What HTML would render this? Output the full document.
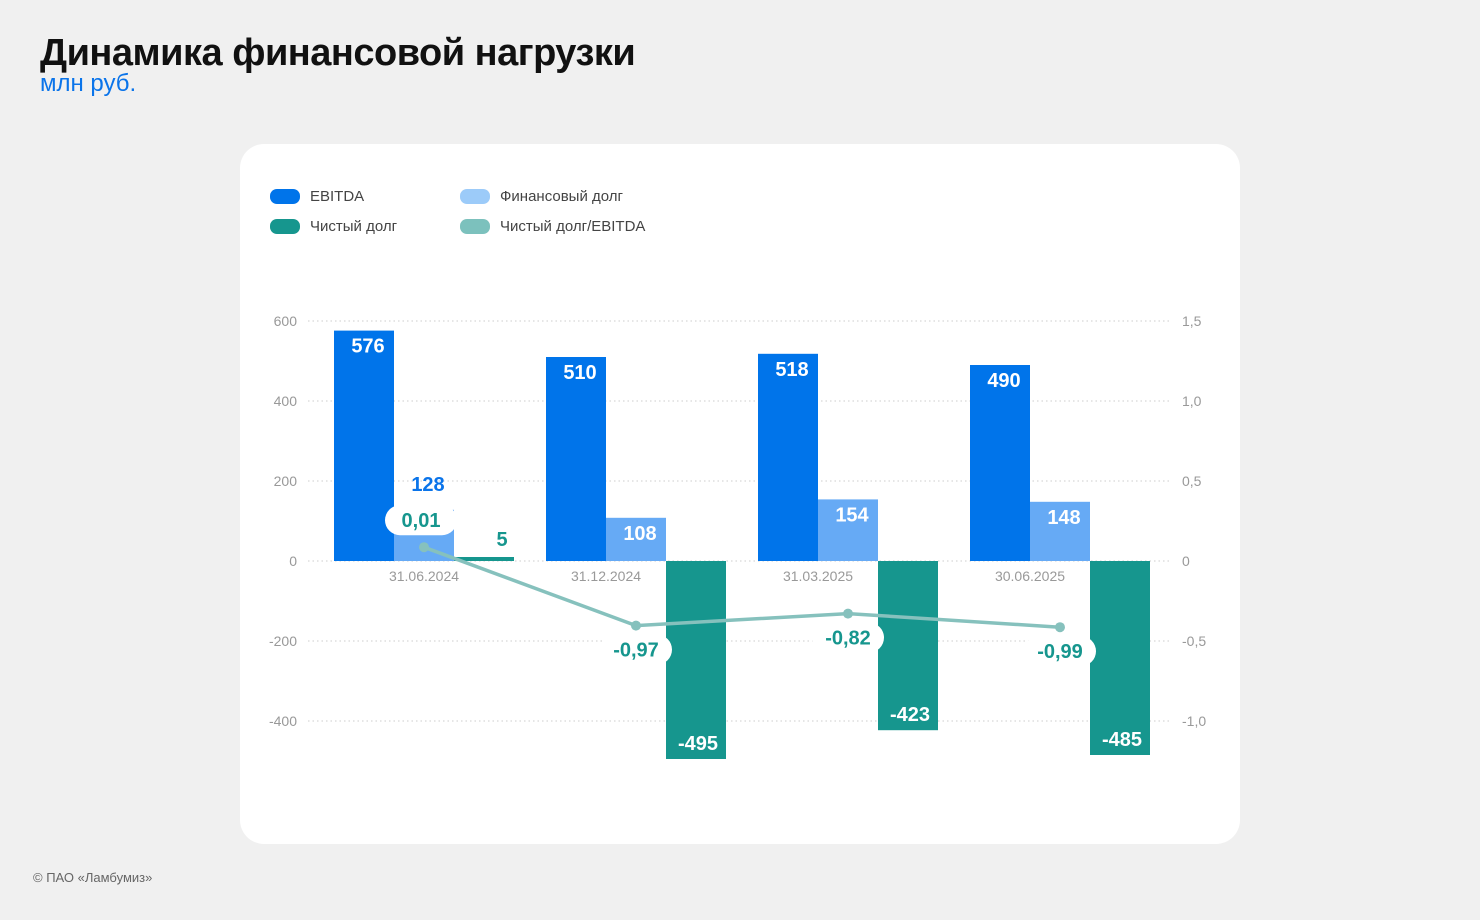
<!DOCTYPE html>
<html><head><meta charset="utf-8"><style>
body{margin:0;width:1480px;height:920px;background:#f0f0f0;font-family:"Liberation Sans",sans-serif;position:relative;overflow:hidden}
h1{position:absolute;left:40px;top:32px;margin:0;font-size:38px;font-weight:bold;color:#111;letter-spacing:-0.5px}
.sub{position:absolute;left:40px;top:70px;font-size:24px;color:#0a74ea}
.card{position:absolute;left:240px;top:144px;width:1000px;height:700px;background:#fff;border-radius:24px}
.foot{position:absolute;left:33px;top:870px;font-size:13px;color:#666}
.lg{position:absolute;font-size:15px;color:#444;display:flex;align-items:center}
.lg i{display:inline-block;width:30px;height:15px;border-radius:7px;margin-right:10px}
</style></head><body>
<h1>Динамика финансовой нагрузки</h1>
<div class="sub">млн руб.</div>
<div class="card"></div>
<div class="lg" style="left:270px;top:188px"><i style="background:#0074ea"></i>EBITDA</div>
<div class="lg" style="left:460px;top:188px"><i style="background:#9ccbf9"></i>Финансовый долг</div>
<div class="lg" style="left:270px;top:218px"><i style="background:#16968e"></i>Чистый долг</div>
<div class="lg" style="left:460px;top:218px"><i style="background:#7cc1bd"></i>Чистый долг/EBITDA</div>
<svg id="ch" width="1480" height="920" style="position:absolute;left:0;top:0"></svg>
<div class="foot">© ПАО «Ламбумиз»</div>
<script>
const categories=["31.06.2024","31.12.2024","31.03.2025","30.06.2025"];
const ebitda=[576,510,518,490];
const finDebt=[128,108,154,148];
const netDebt=[5,-495,-423,-485];
const ratio=[0.01,-0.97,-0.82,-0.99];
const ratioLabels=["0,01","-0,97","-0,82","-0,99"];
const leftTicks=[600,400,200,0,-200,-400];
const rightTicks=["1,5","1,0","0,5","0","-0,5","-1,0"];
const rightTickVals=[1.5,1.0,0.5,0,-0.5,-1.0];

const svg=document.getElementById('ch');const NS='http://www.w3.org/2000/svg';
function y(v){return 561-v*0.4;}
function yr(v){return 561-v*160;}
function yl(v){return 548-v*80;}
function gx(i){return 334+i*212;}
function mk(t,a,txt){const e=document.createElementNS(NS,t);for(const k in a)e.setAttribute(k,a[k]);if(txt!=null)e.textContent=txt;svg.appendChild(e);return e;}
leftTicks.forEach(v=>{
 const l=mk('line',{x1:308,x2:1172,y1:y(v),y2:y(v),stroke:'#ccc','stroke-dasharray':'1.5 3'});
 
 
 const t=mk('text',{x:297,y:y(v)+5,'text-anchor':'end','font-size':14,fill:'#999'},v);
 
 
});
rightTickVals.forEach((v,i)=>{
 const t=mk('text',{x:1182,y:yr(v)+5,'font-size':14,fill:'#999'},rightTicks[i]);
 
 
});
function bar(x,v,c,name){
 const top=Math.min(y(v),y(0)),h=Math.max(Math.abs(y(v)-y(0)),4);
 const r=mk('rect',{x:x,y:v<0?y(0):y(0)-h,width:60,height:h,fill:c});
 
 
}
function lab(x,yy,txt,c,name){
 const t=mk('text',{x:x,y:yy,'text-anchor':'middle','font-size':20,'font-weight':'bold',fill:c},txt);
 
 
}
categories.forEach((c,i)=>{
 const x=gx(i);
 bar(x,ebitda[i],'#0074ea','bar-ebitda');
 lab(x+34,y(ebitda[i])+22,ebitda[i],'#fff','value-ebitda');
 bar(x+60,finDebt[i],'#66aaf5','bar-fin-debt');
 if(i===0)lab(x+94,y(finDebt[i])-19,finDebt[i],'#0a74ea','value-fin-debt');
 else lab(x+94,y(finDebt[i])+22,finDebt[i],'#fff','value-fin-debt');
 bar(x+120,netDebt[i],'#16968e','bar-net-debt');
 if(netDebt[i]>=0)lab(x+168,y(netDebt[i])-13,netDebt[i],'#16968e','value-net-debt');
 else lab(x+152,y(netDebt[i])-9,netDebt[i],'#fff','value-net-debt');
 const t=mk('text',{x:i===0?x+90:x+60,y:581,'text-anchor':'middle','font-size':14,fill:'#999'},c);
 
 
});
const pts=ratio.map((v,i)=>[gx(i)+90,yl(v)]);
const pl=mk('polyline',{points:pts.map(p=>p.join(',')).join(' '),fill:'none',stroke:'#86c1bd','stroke-width':3.5});


pts.forEach((p,i)=>{
 const c=mk('circle',{cx:p[0],cy:p[1],r:5,fill:'#86c1bd'});
 
 
 const ly=i===0?p[1]-27:p[1]+24;
 const lx=i===0?p[0]-3:p[0];
 const bg=mk('rect',{x:lx-36,y:ly-15,width:72,height:30,rx:15,fill:'#fff'});
 
 
 lab(lx,ly+7,ratioLabels[i],'#16968e','ratio-label');
});
</script>
</body></html>
